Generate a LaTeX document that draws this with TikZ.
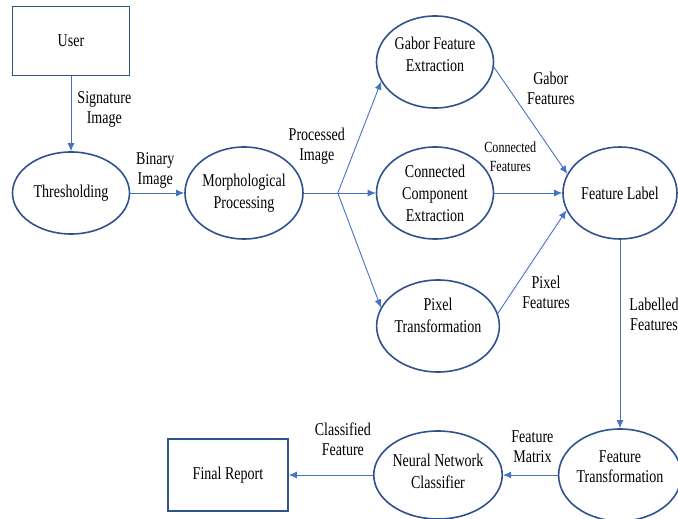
\documentclass[tikz,border=0pt]{standalone}
\usepackage{fontspec}
\setmainfont[FakeStretch=0.78]{Liberation Serif}
\usetikzlibrary{arrows.meta,positioning,shapes,calc}
\definecolor{darkline}{HTML}{2F528F}
\definecolor{arrowblue}{HTML}{4472C4}

\begin{document}
\begin{tikzpicture}[
        node distance=180pt,
        every node/.style={font=\fontsize{18pt}{22pt}\selectfont},
        proc/.style={ellipse, draw=darkline, line width=1.6pt, minimum width=117pt, minimum height=92pt, inner sep=0pt, align=center},
        block/.style={rectangle, draw=darkline, line width=1.6pt, minimum width=117pt, minimum height=69pt, align=center},
        lbl/.style={align=center, inner sep=1pt, font=\fontsize{18pt}{20pt}\selectfont},
        smalllbl/.style={lbl, font=\fontsize{15.5pt}{19pt}\selectfont},
        arrow/.style={-{Latex[length=8pt,width=7pt]}, draw=arrowblue, line width=0.9pt}
    ]
        \useasboundingbox (-71pt,193pt) rectangle (607pt,-326pt);

        \node[proc, minimum height=82pt] (thr) {Thresholding};
        \node[block, above of=thr, node distance=152pt] (user) {User};
        \node[proc, right of=thr, xshift=-7pt] (morph) {Morphological\\Processing};
        \node[proc, right of=morph, xshift=11pt] (conn) {Connected\\Component\\Extraction};
        \node[proc, above of=conn, node distance=131pt, text depth=16pt] (gabor) {Gabor Feature\\Extraction};
        \node[proc, below of=conn, node distance=133pt, xshift=3pt, text depth=22pt] (pixel) {Pixel\\Transformation};
        \node[proc, right of=conn, xshift=5pt, minimum width=114pt] (flabel) {Feature Label};
        \node[proc, below of=flabel, node distance=282pt, minimum width=112pt, text depth=16pt, font=\fontsize{18pt}{20pt}\selectfont] (ftrans) {Feature\\Transformation};
        \node[proc, left of=ftrans, xshift=-2pt, minimum width=115pt, minimum height=88pt, text depth=8pt] (nn) {Neural Network\\Classifier};
        \node[block, left of=nn, xshift=-30pt, minimum width=120pt, minimum height=72pt] (report) {Final Report};

        \coordinate (split) at ($(morph.east)+(34pt,0)$);

        \draw[arrow] (user) -- node[lbl, right, xshift=5pt, yshift=4pt] {Signature\\Image} (thr);
        \draw[arrow] (thr) -- node[lbl, above, xshift=-2pt, yshift=3pt] {Binary\\Image} (morph);
        \draw[draw=arrowblue, line width=0.9pt] (morph.east) -- node[lbl, above, xshift=-4pt, yshift=27pt] {Processed\\Image} (split);
        \draw[arrow] (split) -- (gabor.200);
        \draw[arrow] (split) -- (conn.west);
        \draw[arrow] (split) -- (pixel.162);
        \draw[arrow] (gabor.-5) -- node[lbl, above right, xshift=-5pt, yshift=14pt] {Gabor\\Features} (flabel.160);
        \draw[arrow] (conn.east) -- node[smalllbl, above, xshift=-18pt, yshift=20pt] {Connected\\Features} (flabel.west);
        \draw[arrow] (pixel.12) -- node[lbl, below, xshift=14pt, yshift=-13pt] {Pixel\\Features} (flabel.198);
        \draw[arrow] (flabel.south) -- node[lbl, right, xshift=8pt, yshift=20pt] {Labelled\\Features} (ftrans.north);
        \draw[arrow] (ftrans.west) -- node[lbl, above, xshift=2pt, yshift=11pt] {Feature\\Matrix} (nn.east);
        \draw[arrow] (nn.west) -- node[lbl, above, xshift=12pt, yshift=18pt] {Classified\\Feature} (report.east);
    \end{tikzpicture}
\end{document}
